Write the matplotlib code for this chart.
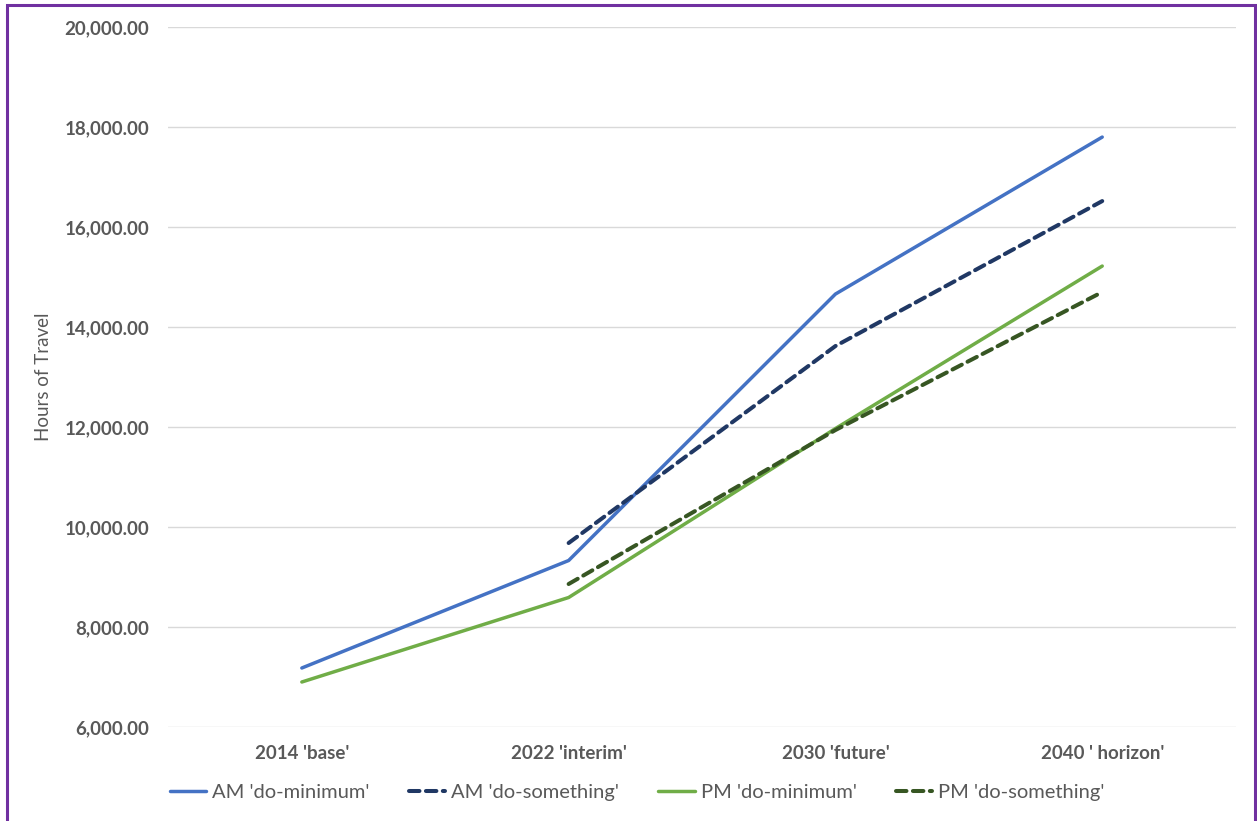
import matplotlib.pyplot as plt
from matplotlib.patches import Rectangle
from matplotlib.ticker import FuncFormatter

plt.rcParams['font.family'] = ['Lato', 'DejaVu Sans']

years = ["2014 'base'", "2022 'interim'", "2030 'future'", "2040 ' horizon'"]
am_min = [7180, 9330, 14660, 17800]
am_ds = [None, 9680, 13620, 16520]
pm_min = [6900, 8590, 11970, 15220]
pm_ds = [None, 8860, 11940, 14700]
yticks = [6000, 8000, 10000, 12000, 14000, 16000, 18000, 20000]

grey = '#595959'

fig = plt.figure(figsize=(12.57, 8.21), dpi=100, facecolor='white')
ax = fig.add_axes([0.134, 0.1145, 0.849, 0.8525])

x = list(range(len(years)))


def pts(vals):
    xs = [i for i, v in zip(x, vals) if v is not None]
    ys = [v for v in vals if v is not None]
    return xs, ys


dash = (0, (2.6, 1.6))
ax.plot(*pts(am_min), color='#4472C4', lw=2.5, label="AM 'do-minimum'",
        solid_capstyle='round')
ax.plot(*pts(am_ds), color='#203864', lw=2.9, ls=dash,
        dash_capstyle='round', label="AM 'do-something'")
ax.plot(*pts(pm_min), color='#70AD47', lw=2.5, label="PM 'do-minimum'",
        solid_capstyle='round')
ax.plot(*pts(pm_ds), color='#375623', lw=2.9, ls=dash,
        dash_capstyle='round', label="PM 'do-something'")

ax.set_xlim(-0.5, len(years) - 0.5)
ax.set_ylim(6000, 20000)
ax.set_yticks(yticks)
ax.yaxis.set_major_formatter(FuncFormatter(lambda v, p: f'{v:,.2f}'))
ax.set_xticks(x)
ax.set_xticklabels(years)
ax.grid(axis='y', color='#D9D9D9', lw=1)
ax.set_axisbelow(True)
for s in ax.spines.values():
    s.set_visible(False)
ax.tick_params(length=0, labelsize=13.5, labelcolor=grey)
ax.tick_params(axis='y', pad=14)
ax.tick_params(axis='x', pad=13)
for lab in ax.get_xticklabels() + ax.get_yticklabels():
    lab.set_fontweight('bold')

ax.set_ylabel('Hours of Travel', fontsize=13.5, color=grey, labelpad=9)

fig.legend(loc='center', bbox_to_anchor=(0.507, 0.035), ncol=4, frameon=False,
           fontsize=14.5, labelcolor=grey, handlelength=1.8, handletextpad=0.3,
           columnspacing=1.95)

# chart frame
fig.patches.append(Rectangle((7 / 1257, -0.05), 1248 / 1257, 1 - 5 / 821 + 0.05,
                             transform=fig.transFigure, fill=False,
                             edgecolor='#7030A0', lw=2.2))

fig.savefig('out.png', dpi=100, facecolor='white')
plt.close()
